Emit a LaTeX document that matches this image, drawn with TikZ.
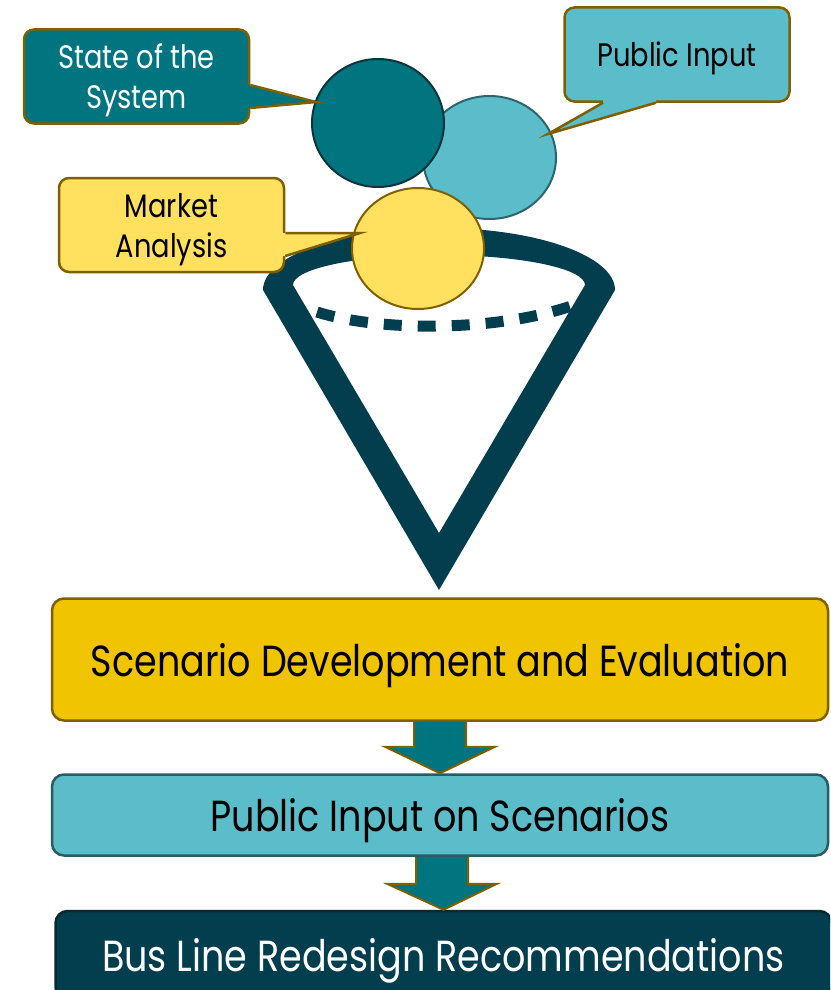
\documentclass[tikz,border=0pt]{standalone}
\usepackage{fontspec}
\setmainfont{Poppins}[FakeStretch=0.84]
\usetikzlibrary{positioning,shapes.geometric,calc}

\definecolor{darkteal}{HTML}{00747F}
\definecolor{lightteal}{HTML}{5BBDC9}
\definecolor{gold}{HTML}{F0C400}
\definecolor{sand}{HTML}{FFE05F}
\definecolor{navy}{HTML}{023E4E}
\definecolor{olive}{HTML}{7F6000}

\tikzset{
  bubble/.style={ellipse, inner sep=0pt, line width=2pt},
  note/.style={draw=olive, line width=2.5pt, rounded corners=10pt, align=center,
    minimum width=225pt, minimum height=94pt, text depth=0pt,
    font=\fontsize{32.5}{40}\selectfont},
  pointer/.style={draw=olive, line width=2.5pt, line join=miter},
  stage/.style={rounded corners=12pt, line width=2.5pt, minimum width=776pt,
    text depth=0pt, font=\fontsize{43.5}{48}\selectfont},
  blockarrow/.style={fill=darkteal, draw=olive, line width=2pt, line join=miter}
}

\begin{document}
\begin{tikzpicture}[x=1pt, y=1pt]
        \clip (0,0) rectangle (830,-990);

        \fill[navy, even odd rule]
        (263,-290) .. controls (263,-255.8) and (341.8,-228) .. (439,-228)
        .. controls (536.2,-228) and (615,-255.8) .. (615,-290) -- (439,-590) -- cycle
        (293,-285) .. controls (293,-268.4) and (358.4,-255) .. (439,-255)
        .. controls (519.6,-255) and (585,-268.4) .. (585,-285) -- (439,-533) -- cycle;

        \draw[navy, line width=11pt, dash pattern=on 18pt off 16pt]
        (317,-312) .. controls (380,-332) and (500,-332) .. (577,-304);

        \draw (489.5,-157.5) node[bubble, fill=lightteal, draw={rgb,255:red,42;green,101;blue,112},
        minimum width=133pt, minimum height=123pt] (publicdot) {};

        \draw (378,-123) node[bubble, fill=darkteal, draw={rgb,255:red,12;green,52;blue,58},
        minimum width=132pt, minimum height=128pt] (statedot) {};

        \draw (418,-248.5) node[bubble, fill=sand, draw=olive,
        minimum width=132pt, minimum height=121pt] (marketdot) {};

        \draw (136.5,-76.5) node[note, fill=darkteal, text=white] (statenote) {State of the\\System};

        \draw (677,-54.5) node[note, fill=lightteal] (publicnote) {Public Input};

        \draw (171.5,-225) node[note, fill=sand] (marketnote) {Market\\Analysis};

        \coordinate (statetip) at (316,-102);

        \coordinate (publictip) at (548,-134);

        \coordinate (markettip) at (360,-233);

        \fill[darkteal] ($(statenote.east)+(-4,-8.5)$) -- ($(statenote.east)+(0,-8.5)$)
        -- (statetip) -- ($(statenote.east)+(0,-31.5)$) -- ($(statenote.east)+(-4,-31.5)$) -- cycle;
        \draw[pointer] ($(statenote.east)+(0,-8.5)$) -- (statetip) -- ($(statenote.east)+(0,-31.5)$);

        \fill[lightteal] ($(publicnote.south)+(-74,4)$) -- ($(publicnote.south)+(-74,0)$)
        -- (publictip) -- ($(publicnote.south)+(-21,0)$) -- ($(publicnote.south)+(-21,4)$) -- cycle;
        \draw[pointer] ($(publicnote.south)+(-74,0)$) -- (publictip) -- ($(publicnote.south)+(-21,0)$);

        \fill[sand] ($(marketnote.east)+(-4,-8)$) -- ($(marketnote.east)+(0,-8)$)
        -- (markettip) -- ($(marketnote.east)+(0,-31)$) -- ($(marketnote.east)+(-4,-31)$) -- cycle;
        \draw[pointer] ($(marketnote.east)+(0,-8)$) -- (markettip) -- ($(marketnote.east)+(0,-31)$);

        \draw (440,-659.5) node[stage, fill=gold, draw=olive, minimum height=122pt]
        (develop) {Scenario Development and Evaluation};

        \draw (440,-815) node[stage, fill=lightteal, draw={rgb,255:red,43;green,90;blue,98},
        minimum height=81pt] (review) {Public Input on Scenarios};

        \draw (443.5,-955) node[stage, fill=navy, draw={rgb,255:red,8;green,40;blue,50},
        text=white, minimum height=88pt] (redesign) {Bus Line Redesign Recommendations};

        \draw[blockarrow] ($(develop.south)+(-26,0)$) -- ($(develop.south)+(-26,-25)$)
        -- ($(develop.south)+(-55,-25)$) -- (review.north) -- ($(develop.south)+(55,-25)$)
        -- ($(develop.south)+(26,-25)$) -- ($(develop.south)+(26,0)$);

        \draw[blockarrow] ($(review.south)+(-24,0)$) -- ($(review.south)+(-24,-27)$)
        -- ($(review.south)+(-53,-27)$) -- (redesign.north) -- ($(review.south)+(57,-27)$)
        -- ($(review.south)+(28,-27)$) -- ($(review.south)+(28,0)$);
      \end{tikzpicture}
\end{document}
